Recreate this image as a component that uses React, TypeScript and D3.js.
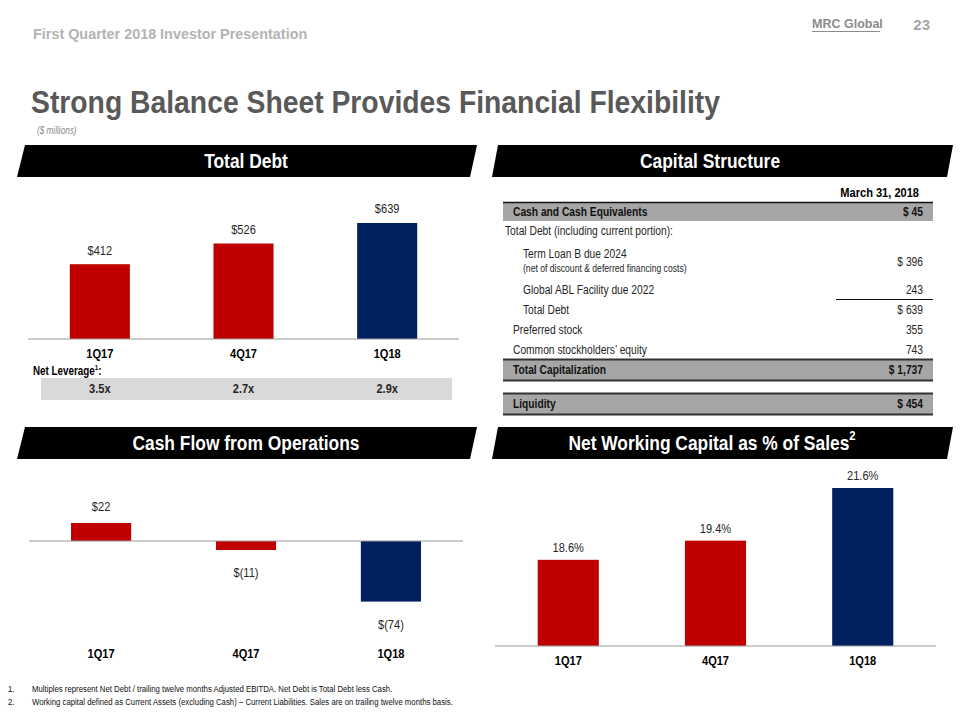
import React from "react";
import * as d3 from "d3";

const categories = ["1Q17", "4Q17", "1Q18"];
const totalDebt = [412, 526, 639];
const netLeverage = ["3.5x", "2.7x", "2.9x"];
const cashFlow = [22, -11, -74];
const nwcPct = [18.6, 19.4, 21.6];
const barColors = ["#c00000", "#c00000", "#002060"];

const tableLabels = [
  "Cash and Cash Equivalents",
  "Total Debt (including current portion):",
  "Term Loan B due 2024",
  "Global ABL Facility due 2022",
  "Total Debt",
  "Preferred stock",
  "Common stockholders\u2019 equity",
  "Total Capitalization",
  "Liquidity",
];
const tableSubLabels = ["", "", "(net of discount & deferred financing costs)", "", "", "", "", "", ""];
const tableValues = ["$ 45", "", "$ 396", "243", "$ 639", "355", "743", "$ 1,737", "$ 454"];
const tableLevels = [0, -1, 1, 1, 1, 0, 0, 0, 0];
const tableHighlight = [true, false, false, false, false, false, false, true, true];

const FONT = "'Liberation Sans', Arial, sans-serif";
const TXT = "#262626";
const NARROW = 0.82;

function T({ x, y, sx = NARROW, children, ...rest }: any) {
  return (
    <text transform={`translate(${x},${y}) scale(${sx},1)`} x={0} y={0} fontFamily={FONT} {...rest}>
      {children}
    </text>
  );
}

function Header({ points, cx, cy, children }: any) {
  return (
    <g>
      <polygon points={points} fill="#000" />
      <T x={cx} y={cy} sx={0.87} textAnchor="middle" dominantBaseline="central" fill="#fff" fontWeight="bold" fontSize={20}>
        {children}
      </T>
    </g>
  );
}

export default function App() {
  const xDebt = d3.scaleBand().domain(categories).range([28, 459]).paddingInner(0.582).paddingOuter(0.291);
  const yDebt = d3.scaleLinear().domain([0, 639]).range([339, 223]);

  const xCash = d3.scaleBand().domain(categories).range([29, 463]).paddingInner(0.585).paddingOuter(0.29);
  const yCash = d3.scaleLinear().domain([-74, 22]).range([601.6, 523]);

  const xNwc = d3.scaleBand().domain(categories).range([495, 936]).paddingInner(0.585).paddingOuter(0.29);
  const yNwc = d3.scaleLinear().domain([15, 21.6]).range([646, 488]);

  const rowY = [212, 231, 254, 290, 310, 330, 350, 370, 404];
  const levelX: Record<string, number> = { "-1": 505, "0": 513, "1": 523 };
  const tLeft = 503, tRight = 933, valX = 923;

  return (
    <div style={{ position: "absolute", left: 0, top: 0, width: 960, height: 720, background: "#fff" }}>
      <svg width={960} height={720} style={{ display: "block" }}>
        <rect width={960} height={720} fill="#fff" />
        {/* top header */}
        <T x={33} y={38.5} sx={0.96} fontWeight="bold" fontSize={15} fill="#b3b3b3">
          First Quarter 2018 Investor Presentation
        </T>
        <text x={812} y={28} fontFamily={FONT} fontWeight="bold" fontSize={12.5} fill="#8c8c8c">
          MRC Global
        </text>
        <line x1={812} x2={880} y1={31.5} y2={31.5} stroke="#8c8c8c" strokeWidth={1.2} />
        <text x={930} y={30} textAnchor="end" fontFamily={FONT} fontWeight="bold" fontSize={15} fill="#a6a6a6">
          23
        </text>
        <T x={31} y={113} sx={0.885} fontWeight="bold" fontSize={32} fill="#595959">
          Strong Balance Sheet Provides Financial Flexibility
        </T>
        <T x={37} y={134} fontStyle="italic" fontSize={10} fill="#8c8c8c">
          ($ millions)
        </T>

        {/* Section headers */}
        <Header points="25,145 477,145 470,177 17,177" cx={246} cy={161}>Total Debt</Header>
        <Header points="498,145 953,145 947,177 492,177" cx={710} cy={161}>Capital Structure</Header>
        <Header points="25,427 477,427 470,459 17,459" cx={246} cy={443}>Cash Flow from Operations</Header>
        <Header points="498,427 953,427 947,459 492,459" cx={712} cy={443}>
          Net Working Capital as % of Sales<tspan fontSize={13} dy={-7}>2</tspan>
        </Header>

        {/* Total Debt chart */}
        <g>
          {categories.map((c, i) => (
            <g key={c}>
              <rect x={xDebt(c)} y={yDebt(totalDebt[i])} width={xDebt.bandwidth()} height={yDebt(0) - yDebt(totalDebt[i])} fill={barColors[i]} />
              <T x={xDebt(c)! + xDebt.bandwidth() / 2} y={yDebt(totalDebt[i]) - 14} textAnchor="middle" dominantBaseline="central" fontSize={13.5} fill={TXT}>
                {"$" + totalDebt[i]}
              </T>
              <T x={xDebt(c)! + xDebt.bandwidth() / 2} y={354} textAnchor="middle" dominantBaseline="central" fontWeight="bold" fontSize={13.5} fill="#000">
                {c}
              </T>
            </g>
          ))}
          <line x1={28} x2={459} y1={yDebt(0)} y2={yDebt(0)} stroke="#999" strokeWidth={1.2} />
          <T x={33} y={371} dominantBaseline="central" fontWeight="bold" fontSize={12} fill="#000">
            Net Leverage<tspan fontSize={7.5} dy={-4}>1</tspan><tspan dy={4}>:</tspan>
          </T>
          <rect x={41} y={378} width={411} height={22} fill="#d9d9d9" />
          {categories.map((c, i) => (
            <T key={c} x={xDebt(c)! + xDebt.bandwidth() / 2} y={389} textAnchor="middle" dominantBaseline="central" fontWeight="bold" fontSize={13.5} fill={TXT}>
              {netLeverage[i]}
            </T>
          ))}
        </g>

        {/* Capital structure table */}
        <g>
          <T x={919} y={193} textAnchor="end" dominantBaseline="central" fontWeight="bold" fontSize={13.5} fill="#000">
            March 31, 2018
          </T>
          <rect x={tLeft} y={203} width={tRight - tLeft} height={18} fill="#a6a6a6" />
          <line x1={tLeft} x2={tRight} y1={202.5} y2={202.5} stroke="#111" strokeWidth={1.5} />
          <rect x={tLeft} y={360} width={tRight - tLeft} height={20} fill="#a6a6a6" />
          <line x1={tLeft} x2={tRight} y1={359.5} y2={359.5} stroke="#333" strokeWidth={2} />
          <line x1={tLeft} x2={tRight} y1={380.5} y2={380.5} stroke="#333" strokeWidth={2} />
          <rect x={tLeft} y={394} width={tRight - tLeft} height={20} fill="#a6a6a6" />
          <line x1={tLeft} x2={tRight} y1={393.5} y2={393.5} stroke="#333" strokeWidth={2} />
          <line x1={tLeft} x2={tRight} y1={414.5} y2={414.5} stroke="#333" strokeWidth={2} />
          <line x1={836} x2={tRight} y1={299.5} y2={299.5} stroke="#111" strokeWidth={1.2} />
          {tableLabels.map((lab, i) => (
            <g key={i}>
              <T x={levelX[String(tableLevels[i])]} y={rowY[i]} dominantBaseline="central" fontSize={12.5} fontWeight={tableHighlight[i] ? "bold" : "normal"} fill={tableHighlight[i] ? "#111" : TXT}>
                {lab}
              </T>
              {tableSubLabels[i] && (
                <T x={levelX[String(tableLevels[i])]} y={rowY[i] + 14} dominantBaseline="central" fontSize={10.5} fill={TXT}>
                  {tableSubLabels[i]}
                </T>
              )}
              {tableValues[i] && (
                <T x={valX} y={tableSubLabels[i] ? rowY[i] + 8 : rowY[i]} textAnchor="end" dominantBaseline="central" fontSize={12.5} fontWeight={tableHighlight[i] ? "bold" : "normal"} fill={tableHighlight[i] ? "#111" : TXT}>
                  {tableValues[i]}
                </T>
              )}
            </g>
          ))}
        </g>

        {/* Cash flow chart */}
        <g>
          {categories.map((c, i) => {
            const v = cashFlow[i];
            const y0 = yCash(0), y1 = yCash(v);
            const cx = xCash(c)! + xCash.bandwidth() / 2;
            const lbl = v >= 0 ? "$" + v : "$(" + Math.abs(v) + ")";
            return (
              <g key={c}>
                <rect x={xCash(c)} y={Math.min(y0, y1)} width={xCash.bandwidth()} height={Math.abs(y1 - y0)} fill={barColors[i]} />
                <T x={cx} y={v >= 0 ? y1 - 16 : y1 + 23} textAnchor="middle" dominantBaseline="central" fontSize={13.5} fill={TXT}>
                  {lbl}
                </T>
                <T x={cx} y={654} textAnchor="middle" dominantBaseline="central" fontWeight="bold" fontSize={13.5} fill="#000">
                  {c}
                </T>
              </g>
            );
          })}
          <line x1={29} x2={463} y1={yCash(0)} y2={yCash(0)} stroke="#999" strokeWidth={1.2} />
        </g>

        {/* NWC chart */}
        <g>
          {categories.map((c, i) => {
            const cx = xNwc(c)! + xNwc.bandwidth() / 2;
            return (
              <g key={c}>
                <rect x={xNwc(c)} y={yNwc(nwcPct[i])} width={xNwc.bandwidth()} height={yNwc(15) - yNwc(nwcPct[i])} fill={barColors[i]} />
                <T x={cx} y={yNwc(nwcPct[i]) - 12} textAnchor="middle" dominantBaseline="central" fontSize={13.5} fill={TXT}>
                  {nwcPct[i].toFixed(1) + "%"}
                </T>
                <T x={cx} y={661} textAnchor="middle" dominantBaseline="central" fontWeight="bold" fontSize={13.5} fill="#000">
                  {c}
                </T>
              </g>
            );
          })}
          <line x1={495} x2={936} y1={yNwc(15)} y2={yNwc(15)} stroke="#999" strokeWidth={1.2} />
        </g>

        {/* Footnotes */}
        <g>
          <T x={8} y={689} dominantBaseline="central" fontSize={9.5} fill="#111">1.</T>
          <T x={32} y={689} dominantBaseline="central" fontSize={9.5} fill="#111">
            Multiples represent Net Debt / trailing twelve months Adjusted EBITDA. Net Debt is Total Debt less Cash.
          </T>
          <T x={8} y={702} dominantBaseline="central" fontSize={9.5} fill="#111">2.</T>
          <T x={32} y={702} dominantBaseline="central" fontSize={9.5} fill="#111">
            Working capital defined as Current Assets (excluding Cash) – Current Liabilities. Sales are on trailing twelve months basis.
          </T>
        </g>
      </svg>
    </div>
  );
}
